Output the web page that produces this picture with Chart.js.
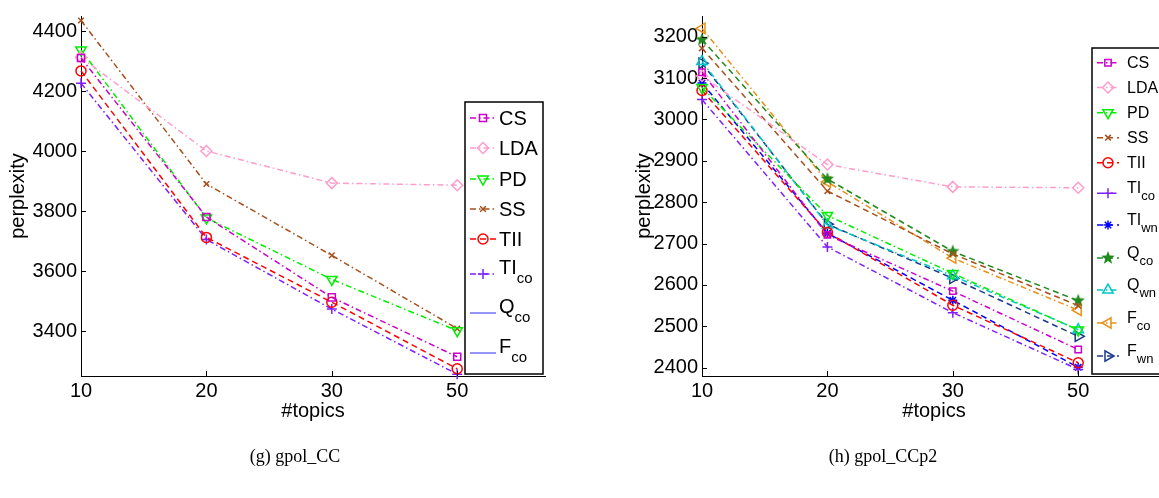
<!DOCTYPE html>
<html>
<head>
<meta charset="utf-8">
<title>perplexity vs #topics</title>
<script src="https://cdn.jsdelivr.net/npm/chart.js@4.4.1/dist/chart.umd.min.js"></script>
<style>
  html, body { margin: 0; padding: 0; background: #fff; overflow: hidden; }
  body { width: 1159px; height: 498px; position: relative; }
  canvas { position: absolute; top: 0; }
  #ccChart { left: 0; }
  #ccp2Chart { left: 580px; }
  .caption { position: absolute; top: 446px; font: 18px "Liberation Serif", "Times New Roman", serif; color: #000; transform: translateX(-50%); white-space: nowrap; }
</style>
</head>
<body>
<canvas id="ccChart" width="580" height="498"></canvas>
<canvas id="ccp2Chart" width="600" height="498"></canvas>
<div class="caption" style="left:295px">(g) gpol_CC</div>
<div class="caption" style="left:883px">(h) gpol_CCp2</div>

<script>
// x categories (#topics), plotted at positions 1..4
const topics = ['10', '20', '30', '50'];
const topicPos = [1, 2, 3, 4];

// gpol_CC perplexity
const ccCS   = [4310, 3780, 3512, 3314];
const ccLDA  = [4312, 4000, 3893, 3886];
const ccPD   = [4337, 3777, 3572, 3401];
const ccSS   = [4435, 3890, 3652, 3408];
const ccTII  = [4267, 3712, 3496, 3274];
const ccTIco = [4226, 3705, 3473, 3256];
const ccTicks = [3400, 3600, 3800, 4000, 4200, 4400];

// gpol_CCp2 perplexity
const p2CS   = [3114, 2721, 2585, 2444];
const p2LDA  = [3105, 2891, 2837, 2835];
const p2PD   = [3077, 2768, 2628, 2491];
const p2SS   = [3172, 2827, 2675, 2550];
const p2TII  = [3070, 2727, 2551, 2412];
const p2TIco = [3048, 2692, 2533, 2396];
const p2TIwn = [3088, 2725, 2563, 2401];
const p2Qco  = [3193, 2856, 2681, 2562];
const p2Qwn  = [3140, 2745, 2622, 2492];
const p2Fco  = [3220, 2849, 2665, 2539];
const p2Fwn  = [3136, 2747, 2616, 2476];
const p2Ticks = [2400, 2500, 2600, 2700, 2800, 2900, 3000, 3100, 3200];

const FONT = '"Liberation Sans", Arial, sans-serif';
const DASH = [6, 4];
const DASHDOT = [6, 3, 1.5, 3];

// filled five-point star used as a marker image
function starMarker(color, r) {
    const c = document.createElement('canvas');
    const s = Math.ceil(r * 2 + 2);
    c.width = s; c.height = s;
    const g = c.getContext('2d');
    g.beginPath();
    for (let i = 0; i < 10; i++) {
        const rad = i % 2 === 0 ? r : r * 0.42;
        const a = -Math.PI / 2 + i * Math.PI / 5;
        g.lineTo(s / 2 + rad * Math.cos(a), s / 2 + rad * Math.sin(a));
    }
    g.closePath();
    g.fillStyle = color;
    g.fill();
    return c;
}

function series(values, label, sub, color, dash, style, radius, rotation) {
    return {
        label: label,
        sub: sub,
        data: values.map((v, i) => ({ x: topicPos[i], y: v })),
        borderColor: color,
        borderWidth: 1.5,
        borderDash: dash,
        tension: 0,
        fill: false,
        clip: false,
        pointStyle: style,
        pointRadius: radius,
        pointHoverRadius: radius,
        pointRotation: rotation || 0,
        pointBorderColor: color,
        pointBackgroundColor: 'rgba(0,0,0,0)',
        pointBorderWidth: 1.5
    };
}

// MATLAB style ticks pointing into the plot
const inwardTicks = {
    id: 'inwardTicks',
    afterDraw(chart) {
        const ctx = chart.ctx, xs = chart.scales.x, ys = chart.scales.y;
        const area = chart.chartArea;
        ctx.save();
        ctx.strokeStyle = '#000';
        ctx.lineWidth = 1;
        ys.ticks.forEach(t => {
            const y = Math.round(ys.getPixelForValue(t.value)) + 0.5;
            ctx.beginPath(); ctx.moveTo(area.left, y); ctx.lineTo(area.left + 5, y); ctx.stroke();
        });
        xs.ticks.forEach(t => {
            const x = Math.round(xs.getPixelForValue(t.value)) + 0.5;
            ctx.beginPath(); ctx.moveTo(x, area.bottom); ctx.lineTo(x, area.bottom - 5); ctx.stroke();
        });
        ctx.restore();
    }
};

// boxed legend with subscripted labels
const boxLegend = {
    id: 'boxLegend',
    afterDraw(chart, args, opts) {
        const ctx = chart.ctx;
        const b = opts.box;
        ctx.save();
        ctx.fillStyle = '#fff';
        ctx.fillRect(b.x, b.y, b.w, b.h);
        ctx.strokeStyle = '#000';
        ctx.lineWidth = 1.5;
        ctx.strokeRect(b.x, b.y, b.w, b.h);
        chart.data.datasets.forEach((ds, i) => {
            const y = opts.rows[i];
            ctx.save();
            ctx.strokeStyle = ds.borderColor;
            ctx.lineWidth = ds.legendWidth || ds.borderWidth;
            ctx.setLineDash(ds.borderDash || []);
            ctx.beginPath();
            ctx.moveTo(opts.lineX0, y);
            ctx.lineTo(opts.lineX1, y);
            ctx.stroke();
            ctx.restore();
            if (ds.pointRadius > 0) {
                ctx.save();
                ctx.strokeStyle = ds.pointBorderColor;
                ctx.fillStyle = ds.pointBackgroundColor;
                ctx.lineWidth = ds.pointBorderWidth;
                Chart.helpers.drawPoint(ctx, {
                    pointStyle: ds.pointStyle,
                    radius: ds.pointRadius,
                    rotation: ds.pointRotation,
                    borderWidth: ds.pointBorderWidth
                }, (opts.lineX0 + opts.lineX1) / 2, y);
                ctx.restore();
            }
            ctx.fillStyle = '#000';
            ctx.textAlign = 'left';
            ctx.font = opts.size + 'px ' + FONT;
            if (ds.sub) {
                ctx.textBaseline = 'alphabetic';
                ctx.fillText(ds.label, opts.textX, y);
                const w = ctx.measureText(ds.label).width;
                ctx.font = opts.subSize + 'px ' + FONT;
                ctx.fillText(ds.sub, opts.textX + w, y + opts.subDrop);
            } else {
                ctx.textBaseline = 'middle';
                ctx.fillText(ds.label, opts.textX, y + 1);
            }
        });
        ctx.restore();
    }
};

function makeOptions(yMin, yMax, yTicks, pad, yAxisWidth, legend) {
    return {
        responsive: false,
        animation: false,
        events: [],
        layout: { padding: pad },
        plugins: { legend: { display: false }, tooltip: { enabled: false }, boxLegend: legend },
        scales: {
            x: {
                type: 'linear',
                min: 1,
                max: 4.7,
                afterBuildTicks: s => { s.ticks = topicPos.map(v => ({ value: v })); },
                afterFit: s => { s.height = 51; },
                grid: { display: false, drawTicks: false },
                border: { display: true, color: '#000', width: 1 },
                ticks: {
                    padding: 3,
                    color: '#000',
                    font: { family: FONT, size: 20 },
                    callback: v => topics[topicPos.indexOf(v)]
                },
                title: { display: true, text: '#topics', color: '#000', font: { family: FONT, size: 20 }, padding: { top: 0, bottom: 4 } }
            },
            y: {
                type: 'linear',
                min: yMin,
                max: yMax,
                afterBuildTicks: s => { s.ticks = yTicks.map(v => ({ value: v })); },
                afterFit: s => { s.width = yAxisWidth; },
                grid: { display: false, drawTicks: false },
                border: { display: true, color: '#000', width: 1 },
                ticks: { padding: 4, color: '#000', font: { family: FONT, size: 20 }, callback: v => String(v) },
                title: { display: true, text: 'perplexity', color: '#000', font: { family: FONT, size: 20 }, padding: { top: 6, bottom: 4 } }
            }
        }
    };
}

const plugins = [inwardTicks, boxLegend];

new Chart(document.getElementById('ccChart'), {
    type: 'line',
    data: {
        datasets: [
            series(ccCS, 'CS', '', '#cc00cc', DASHDOT, 'rect', 5),
            series(ccLDA, 'LDA', '', '#ff9ccc', DASHDOT, 'rectRot', 5.5),
            series(ccPD, 'PD', '', '#00ee00', DASHDOT, 'triangle', 6, 180),
            series(ccSS, 'SS', '', '#a5501e', DASHDOT, 'crossRot', 4),
            series(ccTII, 'TII', '', '#ff0000', DASH, 'circle', 5),
            series(ccTIco, 'TI', 'co', '#7f1fff', DASHDOT, 'cross', 5),
            Object.assign(series([], 'Q', 'co', '#2a2aee', [], 'circle', 0), { legendWidth: 1 }),
            Object.assign(series([], 'F', 'co', '#2a2aee', [], 'circle', 0), { legendWidth: 1 })
        ]
    },
    options: makeOptions(3250, 4450, ccTicks, { left: 0, top: 14, right: 35, bottom: 71 }, 81, {
        box: { x: 465, y: 102, w: 78, h: 272 },
        rows: [118, 148, 179, 209, 239, 274, 313, 353],
        lineX0: 470, lineX1: 496, textX: 499,
        size: 20, subSize: 15, subDrop: 9
    }),
    plugins: plugins
});

new Chart(document.getElementById('ccp2Chart'), {
    type: 'line',
    data: {
        datasets: [
            series(p2CS, 'CS', '', '#cc00cc', DASHDOT, 'rect', 4.5),
            series(p2LDA, 'LDA', '', '#ff9ccc', DASHDOT, 'rectRot', 5.5),
            series(p2PD, 'PD', '', '#00ee00', DASHDOT, 'triangle', 6, 180),
            series(p2SS, 'SS', '', '#a5501e', DASH, 'crossRot', 4),
            series(p2TII, 'TII', '', '#ff0000', DASH, 'circle', 5),
            series(p2TIco, 'TI', 'co', '#7f1fff', DASHDOT, 'cross', 5),
            series(p2TIwn, 'TI', 'wn', '#0000ff', DASH, 'star', 4.5),
            series(p2Qco, 'Q', 'co', '#1f8a1f', DASH, starMarker('#1f8a1f', 7), 7),
            series(p2Qwn, 'Q', 'wn', '#00c8c8', DASHDOT, 'triangle', 6),
            series(p2Fco, 'F', 'co', '#e8901a', DASHDOT, 'triangle', 6, -90),
            series(p2Fwn, 'F', 'wn', '#1a3a8a', DASH, 'triangle', 6, 90)
        ]
    },
    options: makeOptions(2380, 3250, p2Ticks, { left: 46, top: 14, right: 14, bottom: 71 }, 76, {
        box: { x: 512, y: 48, w: 100, h: 326 },
        rows: [62.7, 87.5, 112.7, 137.7, 162.7, 193.3, 225, 258, 290, 323, 356],
        lineX0: 517, lineX1: 539, textX: 547,
        size: 16, subSize: 13, subDrop: 7
    }),
    plugins: plugins
});
</script>
</body>
</html>
